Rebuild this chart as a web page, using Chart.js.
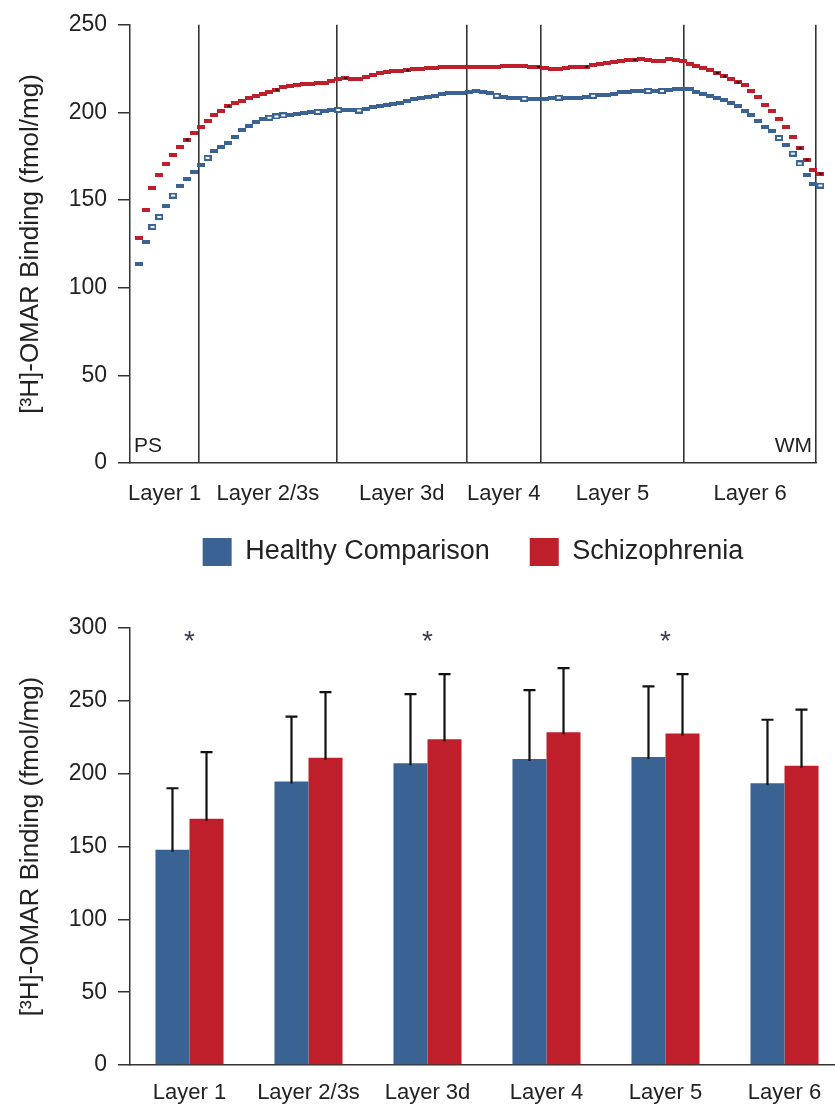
<!DOCTYPE html>
<html>
<head>
<meta charset="utf-8">
<script src="https://cdn.jsdelivr.net/npm/chart.js@4.4.1/dist/chart.umd.min.js"></script>
<style>
html, body { margin:0; padding:0; background:#ffffff; overflow:hidden; width:835px; height:1110px; }
#wrapA { position:absolute; left:0; top:0; width:835px; height:590px; }
#wrapB { position:absolute; left:0; top:590px; width:845px; height:520px; }
</style>
</head>
<body>
<div id="wrapA"><canvas id="profile"></canvas></div>
<div id="wrapB"><canvas id="bars"></canvas></div>
<script>
// ---------- DATA ----------
const seriesNames = ['Healthy Comparison', 'Schizophrenia'];

// Laminar binding profile, pial surface (bin 0) to white matter (bin 99)
const healthyProfile = [
  113.8,126.1,134.7,140.4,146.4,152.6,157.9,162.2,165.8,170.2,
  174.1,178.2,180.5,182.6,186.1,190.0,192.5,194.5,196.0,197.0,
  197.7,198.3,198.8,199.3,199.7,200.0,200.3,200.8,201.2,201.4,
  201.4,201.2,201.1,202.0,203.0,203.5,204.0,204.8,205.5,206.5,
  207.4,208.2,209.0,209.6,210.3,210.9,210.9,210.9,211.5,212.2,
  211.5,210.9,209.5,208.8,208.3,208.0,207.8,207.6,207.5,207.8,
  208.1,208.4,208.2,208.0,208.3,209.0,209.5,209.8,210.2,210.8,
  211.5,211.9,212.2,212.3,212.2,212.2,212.2,212.8,213.2,213.3,
  213.3,211.4,210.5,209.6,208.4,207.3,205.2,203.9,200.7,198.4,
  195.0,191.6,189.4,185.4,181.5,176.5,170.9,164.5,159.0,158.3
];
const schizProfile = [
  128.5,144.3,156.8,164.5,170.3,176.0,180.4,184.5,188.4,191.8,
  195.0,198.4,200.7,203.5,205.2,206.5,208.0,209.5,210.6,211.8,
  213.0,214.5,215.3,215.8,216.3,216.5,216.7,217.0,218.0,219.0,
  219.7,219.3,218.8,220.0,221.2,222.5,223.0,223.5,223.8,224.0,
  224.5,225.0,225.4,225.6,226.0,226.0,226.0,226.0,226.0,226.0,
  226.0,226.0,226.2,226.7,226.7,226.7,226.5,226.2,226.0,225.5,
  225.0,224.5,225.2,226.0,226.0,226.2,226.8,227.5,228.2,228.8,
  229.3,229.7,230.1,230.4,229.8,229.3,229.5,230.5,230.2,229.1,
  227.8,226.5,225.5,224.4,222.5,220.6,218.9,217.1,215.4,212.0,
  208.6,204.2,200.7,196.2,191.6,186.0,179.6,173.1,166.9,165.1
];
const hollowHealthyBins = [2,3,5,10,19,20,21,26,29,32,52,56,61,66,74,76,93,95,96,99];
const darkSchizBins = [7,13,20,30,39,58,65,72,84,85,87,96,97,99];

const layerNames = ['Layer 1', 'Layer 2/3s', 'Layer 3d', 'Layer 4', 'Layer 5', 'Layer 6'];
const depthStart = -1.26;                                   // left edge of depth axis (bins)
const layerBoundaries = [8.8, 28.76, 47.64, 58.39, 79.24, 98.37]; // layer borders (bins)
const profileTicks = [0, 50, 100, 150, 200, 250];
const barTicks = [0, 50, 100, 150, 200, 250, 300];

// Mean binding per layer and standard deviation
const healthyMean = [147.7, 194.6, 207.2, 210.0, 211.4, 193.5];
const healthySD   = [42.3, 44.6, 47.4, 47.4, 48.5, 43.5];
const schizMean   = [169.0, 211.0, 223.7, 228.5, 227.6, 205.4];
const schizSD     = [45.8, 45.0, 44.7, 44.0, 40.8, 38.5];
const significant = [true, false, true, false, true, false];

// ---------- STYLE ----------
const BLUE = '#3A6394';
const RED = '#BF1E2B';
const INK = '#222222';
const AXIS = '#333333';
const FAMILY = "'Liberation Sans', Arial, Helvetica, sans-serif";
Chart.defaults.font.family = FAMILY;
Chart.defaults.color = INK;
const yTitle = '[\u00B3H]-OMAR Binding (fmol/mg)';

function marker(w, h, color, inner) {
  const c = document.createElement('canvas');
  c.width = w; c.height = h;
  const g = c.getContext('2d');
  g.fillStyle = color; g.fillRect(0, 0, w, h);
  if (inner) { g.fillStyle = inner.color; g.fillRect(inner.x, inner.y, inner.w, inner.h); }
  return c;
}
const mBlue = marker(8, 4, BLUE);
const mBlueHollow = marker(8, 6, BLUE, {color:'#ffffff', x:2, y:2, w:4, h:2});
const mRed = marker(8, 4, RED);
const mRedDark = marker(8, 4, RED, {color:'#111111', x:3, y:1, w:3, h:2});

const layerMids = [depthStart, ...layerBoundaries].slice(0, -1).map((v, i) => (v + layerBoundaries[i]) / 2);

const cornerLabels = {
  id: 'cornerLabels',
  afterDraw(chart) {
    const {ctx, chartArea: a} = chart;
    ctx.save();
    ctx.font = '21px ' + FAMILY;
    ctx.fillStyle = INK;
    ctx.textBaseline = 'alphabetic';
    ctx.textAlign = 'left';
    ctx.fillText('PS', a.left + 4, a.bottom - 11);
    ctx.textAlign = 'right';
    ctx.fillText('WM', a.right - 4, a.bottom - 11);
    ctx.restore();
  }
};

const legendLabels = chart => chart.data.datasets.map((ds, i) => ({
  text: ds.label, fillStyle: ds.legendColor, strokeStyle: ds.legendColor,
  lineWidth: 0, hidden: false, datasetIndex: i
}));

new Chart(document.getElementById('profile'), {
  type: 'scatter',
  data: {
    datasets: [
      {
        label: seriesNames[0], legendColor: BLUE,
        data: healthyProfile.map((v, i) => ({x: i, y: v})),
        pointStyle: c => hollowHealthyBins.includes(c.dataIndex) ? mBlueHollow : mBlue,
        pointRadius: 6, pointBorderWidth: 0, showLine: false, clip: false
      },
      {
        label: seriesNames[1], legendColor: RED,
        data: schizProfile.map((v, i) => ({x: i, y: v})),
        pointStyle: c => darkSchizBins.includes(c.dataIndex) ? mRedDark : mRed,
        pointRadius: 6, pointBorderWidth: 0, showLine: false, clip: false
      }
    ]
  },
  options: {
    responsive: true, maintainAspectRatio: false, animation: false,
    layout: { padding: { top: 21, right: 19, bottom: 14, left: 0 } },
    plugins: {
      tooltip: { enabled: false },
      legend: {
        display: true, position: 'bottom', fullSize: false,
        title: { display: true, text: '', font: { size: 0.1 }, padding: { top: -9.1, bottom: 0 } },
        labels: { boxWidth: 29, boxHeight: 28, padding: 40, font: { size: 27 }, color: INK, generateLabels: legendLabels }
      }
    },
    scales: {
      x: {
        type: 'linear', position: 'bottom', min: depthStart, max: layerBoundaries[layerBoundaries.length - 1],
        afterBuildTicks: s => { s.ticks = layerMids.map(v => ({value: v})); },
        ticks: { autoSkip: false, maxRotation: 0, padding: 10, font: { size: 22 }, color: INK,
                 callback: (v, i) => layerNames[i] },
        grid: { display: false },
        border: { display: true, color: AXIS, width: 1.5 },
        afterFit: s => { s.height = 44; }
      },
      xb: {
        type: 'linear', position: 'bottom', min: depthStart, max: layerBoundaries[layerBoundaries.length - 1],
        afterBuildTicks: s => { s.ticks = layerBoundaries.map(v => ({value: v})); },
        ticks: { display: false },
        grid: { display: true, drawTicks: false, drawOnChartArea: true, color: AXIS, lineWidth: 1.6 },
        border: { display: false },
        afterFit: s => { s.height = 0; }
      },
      y: {
        min: 0, max: 250,
        afterBuildTicks: s => { s.ticks = profileTicks.map(v => ({value: v})); },
        ticks: { padding: 11, font: { size: 23 }, color: INK },
        grid: { display: true, drawOnChartArea: false, drawTicks: true, tickLength: 12, color: AXIS, lineWidth: 1.5 },
        border: { display: true, color: AXIS, width: 1.5 },
        title: { display: true, text: yTitle, font: { size: 26 }, color: INK, padding: { top: 15, bottom: 0 } },
        afterFit: s => { s.width = 130; }
      }
    }
  },
  plugins: [cornerLabels]
});

const errorBars = {
  id: 'errorBars',
  afterDatasetsDraw(chart) {
    const {ctx} = chart;
    const ys = chart.scales.y;
    ctx.save();
    ctx.strokeStyle = '#111111';
    ctx.lineWidth = 2.2;
    chart.data.datasets.forEach((ds, di) => {
      const meta = chart.getDatasetMeta(di);
      meta.data.forEach((bar, i) => {
        const top = ys.getPixelForValue(ds.data[i] + ds.sd[i]);
        const base = ys.getPixelForValue(ds.data[i]);
        ctx.beginPath();
        ctx.moveTo(bar.x, base + 2);
        ctx.lineTo(bar.x, top);
        ctx.moveTo(bar.x - 6, top);
        ctx.lineTo(bar.x + 6, top);
        ctx.stroke();
      });
    });
    ctx.restore();
  }
};

const stars = {
  id: 'stars',
  afterDraw(chart, args, opts) {
    const {ctx} = chart;
    const xs = chart.scales.x, ys = chart.scales.y;
    ctx.save();
    ctx.font = '28px ' + FAMILY;
    ctx.fillStyle = '#3b3b4f';
    ctx.textAlign = 'center';
    ctx.textBaseline = 'alphabetic';
    significant.forEach((s, i) => {
      if (s) ctx.fillText('*', xs.getPixelForValue(i), ys.getPixelForValue(opts.level));
    });
    ctx.restore();
  }
};

new Chart(document.getElementById('bars'), {
  type: 'bar',
  data: {
    labels: layerNames,
    datasets: [
      { label: seriesNames[0], data: healthyMean, sd: healthySD, backgroundColor: BLUE,
        categoryPercentage: 0.572, barPercentage: 1.0 },
      { label: seriesNames[1], data: schizMean, sd: schizSD, backgroundColor: RED,
        categoryPercentage: 0.572, barPercentage: 1.0 }
    ]
  },
  options: {
    responsive: true, maintainAspectRatio: false, animation: false,
    layout: { padding: { top: 38, right: 1, bottom: 0, left: 0 } },
    plugins: { legend: { display: false }, tooltip: { enabled: false }, stars: { level: 285 } },
    scales: {
      x: {
        type: 'category', offset: true,
        grid: { display: false },
        border: { display: true, color: AXIS, width: 1.5 },
        ticks: { padding: 7, font: { size: 22 }, color: INK, autoSkip: false, maxRotation: 0 },
        afterFit: s => { s.height = 45; }
      },
      y: {
        min: 0, max: 300,
        afterBuildTicks: s => { s.ticks = barTicks.map(v => ({value: v})); },
        ticks: { padding: 11, font: { size: 23 }, color: INK },
        grid: { display: true, drawOnChartArea: false, drawTicks: true, tickLength: 12, color: AXIS, lineWidth: 1.5 },
        border: { display: true, color: AXIS, width: 1.5 },
        title: { display: true, text: yTitle, font: { size: 26 }, color: INK, padding: { top: 15, bottom: 0 } },
        afterFit: s => { s.width = 130; }
      }
    }
  },
  plugins: [errorBars, stars]
});
</script>
</body>
</html>
